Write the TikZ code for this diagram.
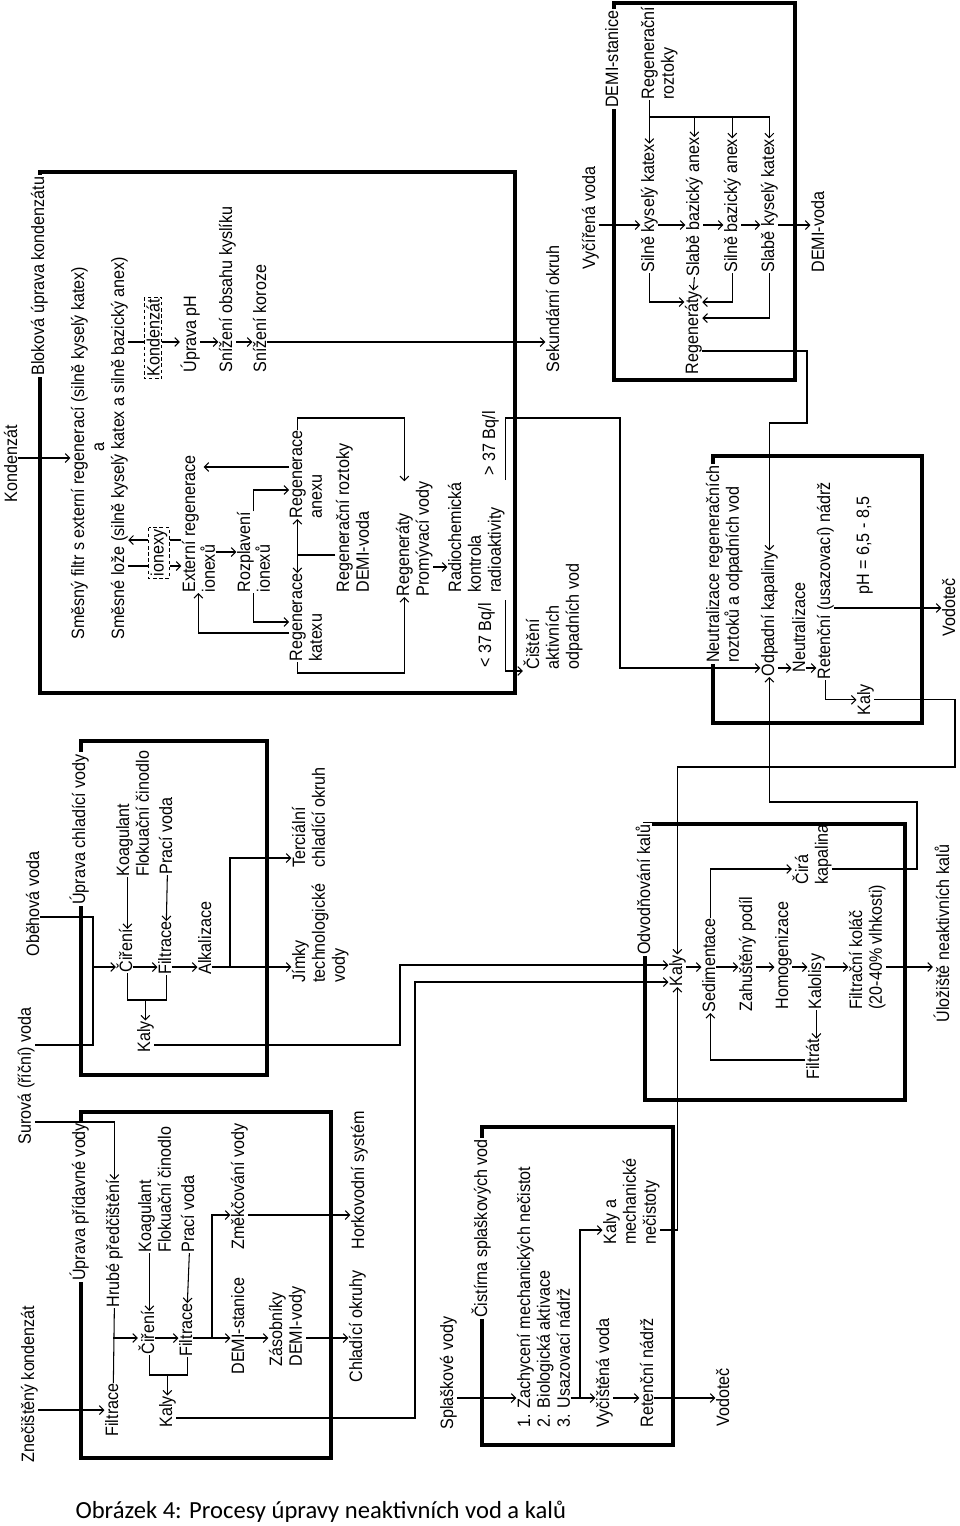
\documentclass[tikz,border=0pt]{standalone}
\usepackage{fontspec}
\setmainfont{Liberation Sans}
\newfontfamily\lblfamily{Liberation Sans}[FakeStretch=0.9]
\newfontfamily\capfamily{Carlito}
\usetikzlibrary{arrows.meta,calc}
\newcommand\lblfont{\lblfamily\fontsize{10.2pt}{11.34pt}\selectfont}
\newcommand\capfont{\capfamily\fontsize{14pt}{16pt}\selectfont}
\newcommand\mlines[1]{\vtop{\let\\\cr\lineskiplimit=-20pt\halign{##\hfil\cr#1\crcr}}}

\begin{document}
\begin{tikzpicture}[x=0.02cm, y=-0.02cm, line width=0.6pt,
  lbl/.style={rotate=90, anchor=base west, inner sep=0pt, font=\lblfont},
  ttl/.style={lbl, fill=white, inner sep=1pt},
  frame/.style={line width=2.2pt},
  dbox/.style={rotate=90, draw, dash pattern=on 2pt off 1.5pt, line width=0.5pt, inner sep=1.2pt, font=\lblfont},
  arr/.style={-{Straight Barb[length=2.5pt,width=5pt]}},
  dbl/.style={{Straight Barb[length=2.5pt,width=5pt]}-{Straight Barb[length=2.5pt,width=5pt]}}]
  \useasboundingbox (0,0) rectangle (960,1526);

  % frames
  \draw[frame] (40,172) rectangle (515,693);
  \draw[frame] (614,3) rectangle (795,380);
  \draw[frame] (713,456) rectangle (922,723);
  \draw[frame] (81,741) rectangle (267,1075);
  \draw[frame] (81,1112) rectangle (331,1458);
  \draw[frame] (482,1127) rectangle (673,1445);
  \draw[frame] (645,824) rectangle (905,1100);

  % bend points
  \coordinate (bendA) at (620,418);
  \coordinate (bendB) at (807,423);
  \coordinate (bendC) at (955,767);
  \coordinate (bendD) at (917,802);
  \coordinate (bendE) at (400,965);
  \coordinate (bendF) at (415,982);
  \coordinate (bendG) at (93,967);

  % Blokova uprava kondenzatu
  \node[ttl] (t1) at (44,378) {Bloková úprava kondenzátu};
  \node[lbl] (kond) at (17,503) {Kondenzát};
  \node[lbl] (sf) at (84,640) {Směsný filtr s externí regenerací (silně kyselý katex)};
  \node[lbl] (a) at (104,452) {a};
  \node[lbl] (sl) at (124,640) {Směsné lože (silně kyselý katex a silně bazický anex)};
  \node[dbox] (kbox) at (153,338) {Kondenzát};
  \node[dbox] (ibox) at (159,553) {ionexy};
  \node[lbl] (upH) at (196,373) {Úprava pH};
  \node[lbl] (sob) at (232,373) {Snížení obsahu kyslíku};
  \node[lbl] (skor) at (266,373) {Snížení koroze};
  \node[lbl] (extreg) at (195,593) {\mlines{Externí regenerace\\ionexů}};
  \node[lbl] (rozpl) at (250,593) {\mlines{Rozplavení\\ionexů}};
  \node[lbl] (regan) at (302,519) {\mlines{Regenerace\\anexu}};
  \node[lbl] (regkat) at (302,662) {\mlines{Regenerace\\katexu}};
  \node[lbl] (regroz) at (349,593) {\mlines{Regenerační roztoky\\DEMI-voda}};
  \node[lbl] (regprom) at (409,597) {\mlines{Regeneráty\\Promývací vody}};
  \node[lbl] (radio) at (461,593) {\mlines{Radiochemická\\kontrola\\radioaktivity}};
  \node[lbl] (gt37) at (495,476) {> 37 Bq/l};
  \node[lbl] (lt37) at (491,668) {< 37 Bq/l};
  \node[lbl] (cist) at (539,670) {\mlines{Čištění\\aktivních\\odpadních vod}};
  \node[lbl] (sek) at (559,373) {Sekundární okruh};

  \draw[arr] (kond.south |- 0,458) -- (sf.north |- 0,458);
  \draw (sl.south |- 0,342) -- (kbox.north |- 0,342);
  \draw[arr] (kbox.south |- 0,342) -- (upH.north |- 0,342);
  \draw[arr] (upH.south |- 0,342) -- (sob.north |- 0,342);
  \draw[arr] (sob.south |- 0,342) -- (skor.north |- 0,342);
  \draw[arr] (skor.south |- 0,342) -- (sek.north |- 0,342);
  \draw[arr] (ibox.north |- 0,540) -- (sl.south |- 0,540);
  \draw (extreg.north |- 0,540) -- (ibox.south |- 0,540);
  \draw (sl.south |- 0,566) -- (ibox.north |- 0,566);
  \draw[arr] (ibox.south |- 0,566) -- (extreg.north |- 0,566);
  \draw[arr] (extreg.south |- 0,552) -- (rozpl.north |- 0,552);
  \draw[arr] (rozpl.east) |- (regan.north |- 0,490);
  \draw[arr] (rozpl.west) |- (regkat.north |- 0,622);
  \draw[arr] (regan.north |- 0,467) -- ($(extreg.south |- 0,467)+(-12,0)$);
  \draw[arr] (regkat.north |- 0,633) -| (extreg.west);
  \draw[dbl] (regan.mid west) -- (regkat.mid east);
  \draw (regroz.north |- 0,555) -- (regan.mid west |- 0,555);
  \draw[arr] (regan.mid east) -- (regan.mid east |- 0,418) -| (regprom.mid east);
  \draw[arr] (regkat.mid west) -- (regkat.mid west |- 0,673) -| (regprom.mid west);
  \draw[arr] (regprom.south |- 0,567) -- (radio.north |- 0,567);
  \draw[arr] (radio.south |- 0,600) |- (cist.north |- 0,671);

  % DEMI-stanice
  \node[ttl] (t2) at (618,110) {DEMI-stanice};
  \node[lbl] (regroz2) at (654,100) {\mlines{Regenerační\\roztoky}};
  \node[lbl] (vycir) at (595,270) {Vyčířená voda};
  \node[lbl] (skk) at (654,273) {Silně kyselý katex};
  \node[lbl] (sba) at (699,277) {Slabě bazický anex};
  \node[lbl] (sbaz) at (737,273) {Silně bazický anex};
  \node[lbl] (skat) at (774,273) {Slabě kyselý katex};
  \node[lbl] (demivoda) at (824,273) {DEMI-voda};
  \node[lbl] (regen) at (698,375) {Regeneráty};

  \draw[arr] (vycir.south |- 0,225) -- (skk.north |- 0,225);
  \draw[arr] (skk.south |- 0,225) -- (sba.north |- 0,225);
  \draw[arr] (sba.south |- 0,225) -- (sbaz.north |- 0,225);
  \draw[arr] (sbaz.south |- 0,225) -- (skat.north |- 0,225);
  \draw[arr] (skat.south |- 0,225) -- (demivoda.north |- 0,225);
  \draw[arr] (regroz2.mid west) -- (skk.mid east);
  \draw[arr] (regroz2.mid west |- 0,117) -| (skat.mid east);
  \draw[arr] (sba.mid east |- 0,117) -- (sba.mid east);
  \draw[arr] (sbaz.mid east |- 0,117) -- (sbaz.mid east);
  \draw[arr] (skk.mid west) |- (regen.north |- 0,302);
  \draw[arr] (sba.mid west) -- (regen.mid east);
  \draw[arr] (sbaz.mid west) |- (regen.south |- 0,302);
  \draw[arr] (skat.mid west) |- (regen.south |- 0,318);

  % Neutralizace
  \node[ttl] (t3) at (719,665) {\mlines{Neutralizace regeneračních\\roztoků a odpadních vod}};
  \node[lbl] (odpkap) at (774,677) {Odpadní kapaliny};
  \node[lbl] (neutr) at (805,673) {Neutralizace};
  \node[lbl] (retusaz) at (830,680) {Retenční (usazovací) nádrž};
  \node[lbl] (ph) at (869,595) {pH = 6,5 - 8,5};
  \node[lbl] (kalyN) at (870,716) {Kaly};
  \node[lbl] (vodotecN) at (955,637) {Vodoteč};

  \draw[arr] (radio.south |- 0,480) |- (bendA) |- (odpkap.north |- 0,668);
  \draw[arr] (regen.south |- 0,351) -| (bendB) -| (odpkap.mid east);
  \draw[arr] (odpkap.south |- 0,668) -- (neutr.north |- 0,668);
  \draw[arr] (neutr.south |- 0,668) -- (retusaz.north |- 0,668);
  \draw[arr] (retusaz.mid west) |- (kalyN.north);
  \draw[arr] (retusaz.south |- 0,608) -- (vodotecN.north |- 0,608);

  % Uprava chladici vody
  \node[ttl] (t4) at (85,907) {Úprava chladící vody};
  \node[lbl] (obeh) at (39,957) {Oběhová voda};
  \node[lbl] (surova) at (31,1145) {Surová (říční) voda};
  \node[lbl] (ciren2) at (132,973) {Čiření};
  \node[lbl] (filtr2) at (171,975) {Filtrace};
  \node[lbl] (alk) at (211,975) {Alkalizace};
  \node[lbl] (koag2) at (129,877) {\mlines{Koagulant\\Flokuační činodlo}};
  \node[lbl] (praci2) at (172,875) {Prací voda};
  \node[lbl] (kaly2) at (150,1053) {Kaly};
  \node[lbl] (jimky) at (305,983) {\mlines{Jímky\\technologické\\vody}};
  \node[lbl] (terc) at (305,868) {\mlines{Terciální\\chladící okruh}};
  \coordinate (jH) at (230,967);

  \draw[arr] (obeh.south |- 0,917) -| (bendG) -- (ciren2.north |- bendG);
  \draw (surova.south |- 0,1045) -| (bendG);
  \draw[arr] (ciren2.mid east |- koag2.west) -- (ciren2.mid east);
  \draw[arr] (praci2.mid west) -- (filtr2.mid east);
  \draw[arr] (ciren2.south |- 0,967) -- (filtr2.north |- 0,967);
  \draw[arr] (filtr2.south |- 0,967) -- (alk.north |- 0,967);
  \draw (ciren2.mid west) |- (filtr2.mid west |- 0,1000) -- (filtr2.mid west);
  \draw[arr] (kaly2.mid east |- 0,1000) -- (kaly2.mid east);
  \draw[arr] (alk.south |- 0,967) -- (jimky.north |- 0,967);
  \draw[arr] (jH) |- (terc.north |- 0,858);

  % Uprava pridavne vody
  \node[ttl] (t5) at (85,1283) {Úprava přídavné vody};
  \node[lbl] (znec) at (34,1463) {Znečištěný kondenzát};
  \node[lbl] (filtr3a) at (118,1437) {Filtrace};
  \node[lbl] (hrube) at (119,1308) {Hrubé předčištění};
  \node[lbl] (ciren3) at (154,1355) {Čiření};
  \node[lbl] (filtr3) at (192,1357) {Filtrace};
  \node[lbl] (koag3) at (151,1253) {\mlines{Koagulant\\Flokuační činodlo}};
  \node[lbl] (praci3) at (194,1253) {Prací voda};
  \node[lbl] (kaly3) at (172,1428) {Kaly};
  \node[lbl] (demist) at (244,1375) {DEMI-stanice};
  \node[lbl] (zmek) at (244,1250) {Změkčování vody};
  \node[lbl] (zasob) at (282,1367) {\mlines{Zásobníky\\DEMI-vody}};
  \node[lbl] (chlok) at (362,1383) {Chladící okruhy};
  \node[lbl] (horko) at (364,1250) {Horkovodní systém};
  \coordinate (jA) at (filtr3a.mid east |- 0,1338);
  \coordinate (jB) at (212,1338);

  \draw[arr] (surova.south |- 0,1122) -| (hrube.mid east);
  \draw[arr] (znec.south |- 0,1410) -- (filtr3a.north |- 0,1410);
  \draw (filtr3a.mid east) -- (hrube.mid west);
  \draw[arr] (jA) -- (ciren3.north |- jA);
  \draw[arr] (ciren3.south |- jA) -- (filtr3.north |- jA);
  \draw[arr] (ciren3.mid east |- koag3.west) -- (ciren3.mid east);
  \draw[arr] (praci3.mid west) -- (filtr3.mid east);
  \draw (ciren3.mid west) |- (filtr3.mid west |- 0,1375) -- (filtr3.mid west);
  \draw[arr] (kaly3.mid east |- 0,1375) -- (kaly3.mid east);
  \draw[arr] (filtr3.south |- jA) -- (demist.north |- jA);
  \draw[arr] (jB) |- (zmek.north |- 0,1215);
  \draw[arr] (demist.south |- jA) -- (zasob.north |- jA);
  \draw[arr] (zasob.south |- jA) -- (chlok.north |- jA);
  \draw[arr] (zmek.south |- 0,1215) -- (horko.north |- 0,1215);

  % Cistirna splaskovych vod
  \node[ttl] (t6) at (487,1320) {Čistírna splaškových vod};
  \node[lbl] (splas) at (453,1430) {Splaškové vody};
  \node[lbl] (steps) at (530,1428) {\mlines{1. Zachycení mechanických nečistot\\2. Biologická aktivace\\3. Usazovací nádrž}};
  \node[lbl] (vycist) at (609,1428) {Vyčištěná voda};
  \node[lbl] (kalymech) at (616,1245) {\mlines{Kaly a\\mechanické\\nečistoty}};
  \node[lbl] (reten) at (653,1428) {Retenční nádrž};
  \node[lbl] (vodotecS) at (729,1427) {Vodoteč};
  \coordinate (jC) at (580,1398);

  \draw[arr] (splas.south |- 0,1398) -- (steps.north |- 0,1398);
  \draw[arr] (steps.south |- 0,1398) -- (vycist.north |- 0,1398);
  \draw[arr] (jC) |- (kalymech.north |- 0,1230);
  \draw[arr] (vycist.south |- 0,1398) -- (reten.north |- 0,1398);
  \draw[arr] (reten.south |- 0,1398) -- (vodotecS.north |- 0,1398);

  % Odvodnovani kalu
  \node[ttl] (t7) at (650,957) {Odvodňování kalů};
  \node[lbl] (kalyO) at (682,987) {Kaly};
  \node[lbl] (sedim) at (715,1013) {Sedimentace};
  \node[lbl] (zahus) at (752,1012) {Zahuštěný podíl};
  \node[lbl] (homog) at (788,1010) {Homogenizace};
  \node[lbl] (kalol) at (821,1010) {Kalolisy};
  \node[lbl] (filtrkol) at (862,1010) {\mlines{Filtrační koláč\\(20-40\% vlhkosti)}};
  \node[lbl] (cira) at (808,885) {\mlines{Čirá\\kapalina}};
  \node[lbl] (filtrat) at (819,1080) {Filtrát};
  \node[lbl] (uloz) at (949,1023) {Úložiště neaktivních kalů};

  \draw[arr] (kalyN.south) -| (bendC) -| (kalyO.mid east);
  \draw[arr] (cira.south |- 0,869) -| (bendD) -| (odpkap.mid west);
  \draw[arr] (kaly2.south |- 0,1045) -| (bendE) -- (kalyO.north |- bendE);
  \draw[arr] (kaly3.south |- 0,1418) -| (bendF) -- (kalyO.north |- bendF);
  \draw[arr] (kalymech.south |- 0,1230) -| (kalyO.mid west);
  \draw[arr] (kalyO.south |- 0,967) -- (sedim.north |- 0,967);
  \draw[arr] (sedim.south |- 0,967) -- (zahus.north |- 0,967);
  \draw[arr] (zahus.south |- 0,967) -- (homog.north |- 0,967);
  \draw[arr] (homog.south |- 0,967) -- (kalol.north |- 0,967);
  \draw[arr] (kalol.south |- 0,967) -- (filtrkol.north |- 0,967);
  \draw[arr] (filtrkol.south |- 0,967) -- (uloz.north |- 0,967);
  \draw[arr] (sedim.mid east) |- (cira.north |- 0,869);
  \draw[arr] (kalol.mid west) -- (kalol.mid west |- filtrat.east);
  \draw[arr] (filtrat.north |- 0,1060) -| (sedim.mid west);

  % caption
  \node[anchor=base west, inner sep=0pt, font=\capfont] (cap) at (75,1518) {Obrázek 4: Procesy úpravy neaktivních vod a kalů};
\end{tikzpicture}
\end{document}
